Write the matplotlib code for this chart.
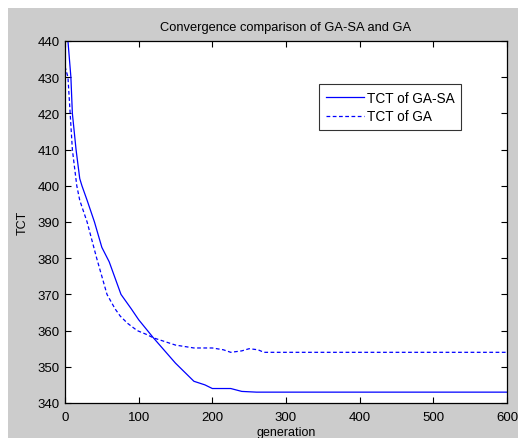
import matplotlib
matplotlib.use("Agg")
from matplotlib import pyplot as plt
import matplotlib.patches as mpatches

plt.rcParams["font.family"] = ["Liberation Sans", "DejaVu Sans"]

# GA-SA (solid)
gen_gasa = [0, 4, 8, 10, 15, 20, 23, 30, 40, 50, 60, 76, 90, 100, 110, 120,
            135, 150, 165, 175, 190, 200, 225, 240, 260, 300, 400, 500, 600]
tct_gasa = [448, 440, 430, 420, 410, 402, 400, 396, 390, 383, 379, 370, 366,
            363, 360.5, 358, 354.5, 351, 348, 346, 345, 344, 344, 343.2, 343,
            343, 343, 343, 343]

# GA (dashed)
gen_ga = [0, 4, 7, 10, 16, 20, 30, 43, 57, 68, 75, 85, 98, 110, 120, 135,
          150, 175, 200, 215, 225, 240, 250, 262, 270, 300, 400, 500, 600]
tct_ga = [433, 430, 420, 410, 400, 396, 390, 380, 370, 366, 364, 362, 360,
          359, 358, 357, 356, 355.2, 355.2, 354.7, 354, 354.4, 355, 354.7,
          354, 354, 354, 354, 354]

W, H = 518, 439
fig = plt.figure(figsize=(W / 100, H / 100), dpi=100)
fig.patch.set_facecolor("white")
# grey figure panel as in the matlab window
fig.add_artist(mpatches.Rectangle((8 / W, 0), 1 - 8 / W, 1 - 9 / H,
                                  transform=fig.transFigure,
                                  facecolor="#cccccc", edgecolor="none",
                                  zorder=-10))

ax = fig.add_axes([65 / W, 1 - 404 / H, (507 - 65) / W, (404 - 42) / H])
ax.set_facecolor("white")

ax.plot(gen_gasa, tct_gasa, color="#0000ff", lw=0.9, label="TCT of GA-SA")
ax.plot(gen_ga, tct_ga, color="#0000ff", lw=0.9, ls=(0, (3, 2)),
        label="TCT of GA")

ax.set_xlim(0, 600)
ax.set_ylim(340, 440)
ax.set_xticks(range(0, 601, 100))
ax.set_yticks(range(340, 441, 10))
ax.tick_params(direction="in", length=4, width=0.8, top=True, right=True,
               labelsize=9.5, colors="black")
ax.tick_params(axis="x", pad=6)
ax.tick_params(axis="y", pad=4)
for s in ax.spines.values():
    s.set_linewidth(0.9)

ax.set_title("Convergence comparison of GA-SA and GA", fontsize=9.3, pad=8)
ax.set_xlabel("generation", fontsize=9, labelpad=2)
ax.set_ylabel("TCT", fontsize=9, labelpad=6)

leg = ax.legend(loc="upper left", bbox_to_anchor=(0.575, 0.882),
                fontsize=9.8, frameon=True, fancybox=False, borderpad=0.5,
                borderaxespad=0, handlelength=2.8, handletextpad=0.2,
                labelspacing=0.35)
leg.get_frame().set_edgecolor("black")
leg.get_frame().set_linewidth(0.8)

fig.savefig("out.png", dpi=100)
